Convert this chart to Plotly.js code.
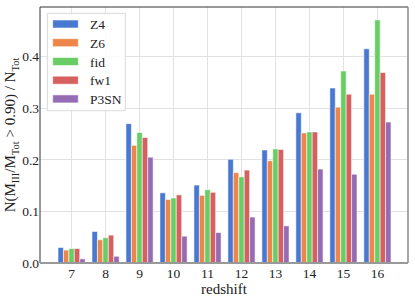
<!DOCTYPE html>
<html><head><meta charset="utf-8">
<script src="https://cdn.plot.ly/plotly-3.0.1.min.js"></script>
<style>html,body{margin:0;padding:0;background:#fff;}#chart{width:415px;height:299px;}</style>
</head><body><div id="chart"></div>
<script>
const redshifts = ['7','8','9','10','11','12','13','14','15','16'];
const Z4   = [0.030, 0.061, 0.270, 0.136, 0.151, 0.201, 0.219, 0.291, 0.339, 0.415];
const Z6   = [0.025, 0.045, 0.228, 0.123, 0.131, 0.175, 0.198, 0.252, 0.302, 0.327];
const fid  = [0.028, 0.049, 0.253, 0.126, 0.142, 0.167, 0.221, 0.254, 0.372, 0.471];
const fw1  = [0.028, 0.054, 0.243, 0.132, 0.137, 0.180, 0.220, 0.254, 0.327, 0.369];
const P3SN = [0.008, 0.013, 0.205, 0.052, 0.059, 0.089, 0.072, 0.182, 0.172, 0.273];
const names = ['Z4','Z6','fid','fw1','P3SN'];
const series = [Z4, Z6, fid, fw1, P3SN];
const colors = ['#4878d0','#ee854a','#6acc64','#d65f5f','#956cb4'];

const traces = series.map((s,i)=>({
  type:'bar', x: redshifts, y: s, name: names[i],
  marker:{color: colors[i], line:{color:'rgba(255,255,255,0.7)', width:0.8}}
}));

const FAM = 'Liberation Serif';
const f = (size)=>({family:FAM, size:size, color:'#222'});

// plot area in pixels: x 40..408, y 7..263
const L=40, R=408, T=7, B=263;
const px = (x)=>(x-L)/(R-L);
const py = (y)=>(B-y)/(B-T);

const shapes = [
  {type:'rect', xref:'paper', yref:'paper', layer:'above',
   x0:px(47.3), x1:px(125.3), y0:py(110.7), y1:py(13.3),
   fillcolor:'rgba(255,255,255,0.85)', line:{color:'#d9d9d9', width:1}}
];
const annotations = [];
const rowY = [24, 42.7, 61.5, 80.2, 98.9];
names.forEach((n,i)=>{
  shapes.push({type:'rect', xref:'paper', yref:'paper', layer:'above',
    x0:px(52.7), x1:px(78.3), y0:py(rowY[i]+4), y1:py(rowY[i]-4),
    fillcolor:colors[i], line:{color:'rgba(255,255,255,0.7)', width:0.8}});
  annotations.push({xref:'paper', yref:'paper', x:px(87.5), y:py(rowY[i]+0.5),
    xanchor:'left', yanchor:'middle', text:n, showarrow:false, font:f(13.5)});
});
shapes.push(
  {type:'line', xref:'paper', yref:'paper', x0:0, x1:0, y0:0, y1:1, line:{color:'#333', width:1}},
  {type:'line', xref:'paper', yref:'paper', x0:0, x1:1, y0:1, y1:1, line:{color:'#333', width:1}},
  {type:'line', xref:'paper', yref:'paper', x0:1, x1:1, y0:0, y1:1, line:{color:'#888', width:1.5}},
  {type:'line', xref:'paper', yref:'paper', x0:0, x1:1, y0:0, y1:0, line:{color:'#999', width:2}}
);

const layout = {
  width:415, height:299,
  margin:{l:L, r:415-R, t:T, b:299-B},
  paper_bgcolor:'#fff', plot_bgcolor:'#fff',
  barmode:'group', bargap:0.2, bargroupgap:0,
  font: f(13),
  showlegend:false,
  xaxis:{type:'category', range:[-0.93, 9.9], showgrid:true, gridcolor:'#e2e2e2', gridwidth:1,
    ticks:'', showline:false, zeroline:false, tickfont:f(13.5),
    title:{text:'redshift', font:f(15), standoff:0}},
  yaxis:{range:[0, 0.496], tickvals:[0,0.1,0.2,0.3,0.4], ticktext:['0.0','0.1','0.2','0.3','0.4'],
    showgrid:true, gridcolor:'#e2e2e2', gridwidth:1, zeroline:false, ticks:'', showline:false,
    tickfont:f(13.5),
    title:{text:'N(M<sub>III</sub>/M<sub>Tot</sub> &gt; 0.90) / N<sub>Tot</sub>', font:f(15), standoff:2}},
  shapes: shapes,
  annotations: annotations
};
Plotly.newPlot('chart', traces, layout, {displayModeBar:false, staticPlot:true});
</script></body></html>
